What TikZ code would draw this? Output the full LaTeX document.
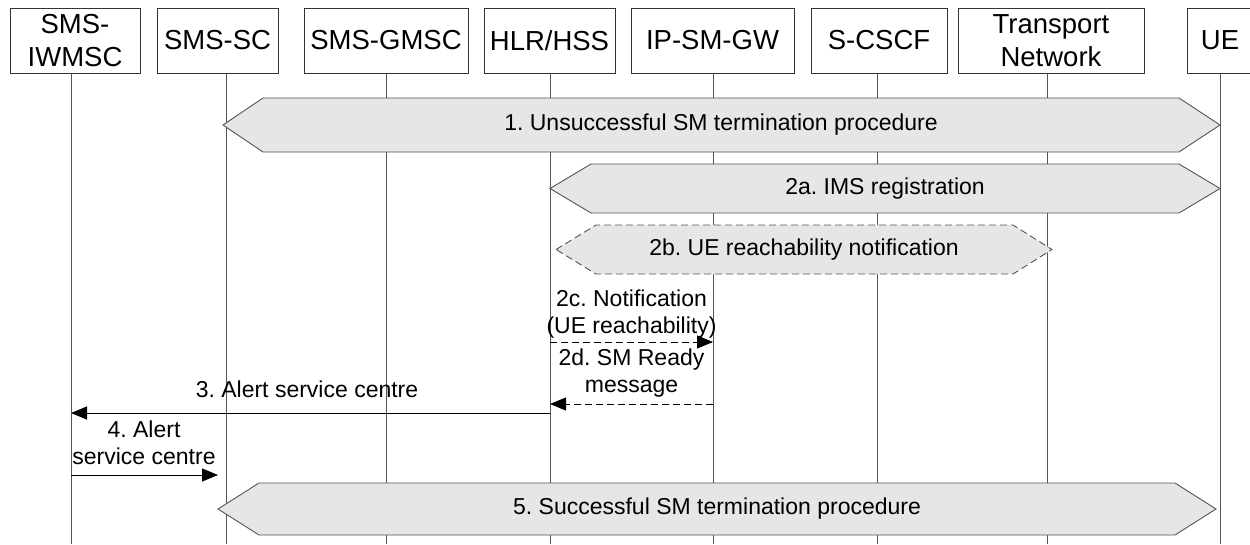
\documentclass[tikz,border=0pt]{standalone}
\usepackage{fontspec}
\setmainfont{Liberation Sans}
\usetikzlibrary{arrows.meta}
\definecolor{hexfill}{RGB}{230,230,230}
\definecolor{lline}{RGB}{85,85,85}
\begin{document}
\begin{tikzpicture}[x=1pt,y=-1pt,
  hdr/.style={draw=black!80,line width=0.9pt,rectangle,inner sep=0pt,align=center,
    font=\fontsize{27.5}{33}\selectfont\frenchspacing},
  life/.style={draw=lline,line width=0.9pt},
  hexa/.style={draw=lline,fill=hexfill,line width=0.9pt},
  msgtext/.style={font=\fontsize{23}{27}\selectfont\frenchspacing,align=center,inner sep=0pt},
  msg/.style={draw=black,line width=0.9pt,-{Triangle[length=16pt,width=13pt]}},
  dmsg/.style={msg,dash pattern=on 7pt off 4pt}]
\useasboundingbox (0,0) rectangle (1250,544);
% header boxes
\node[hdr,minimum width=130,minimum height=65] (iw) at (75,40.5) {SMS-\\IWMSC};
\node[hdr,minimum width=121,minimum height=65] (sc) at (217.5,40.5) {SMS-SC};
\node[hdr,minimum width=164,minimum height=65] (gm) at (386,40.5) {SMS-GMSC};
\node[hdr,minimum width=131,minimum height=65] (hlr) at (549.5,40.5) {HLR/HSS};
\node[hdr,minimum width=163,minimum height=65] (gw) at (712.5,40.5) {IP-SM-GW};
\node[hdr,minimum width=136,minimum height=65] (cs) at (879,40.5) {S-CSCF};
\node[hdr,minimum width=186,minimum height=65] (tn) at (1051,40.5) {Transport\\Network};
\node[hdr,minimum width=66,minimum height=65] (ue) at (1220,40.5) {UE};
% lifelines
\foreach \n/\x in {iw/71,sc/226,gm/386,hlr/550,gw/713,cs/877,tn/1047,ue/1220}{
  \coordinate (\n t) at (\x,73);
  \coordinate (\n b) at (\x,544);
}
\foreach \n in {iw,sc,gm,hlr,gw,cs,tn,ue}{\draw[life] (\n t) -- (\n b);}
% 1
\draw[hexa] (223,125) -- (263,98) -- (1179,98) -- (1220,125) -- (1179,152) -- (263,152) -- cycle;
\node[msgtext] (h1) at (721,125) {1. Unsuccessful SM termination procedure};
% 2a
\draw[hexa] (550,188.5) -- (591,164) -- (1179,164) -- (1220,188.5) -- (1179,213) -- (591,213) -- cycle;
\node[msgtext] (h2a) at (885,188.5) {2a. IMS registration};
% 2b
\draw[hexa,dash pattern=on 7pt off 4pt] (556,249.5) -- (596,225) -- (1013,225) -- (1052,249.5) -- (1013,274) -- (596,274) -- cycle;
\node[msgtext] (h2b) at (804,249.5) {2b. UE reachability notification};
% 2c
\coordinate (c2s) at (550,342);
\coordinate (c2e) at (713,342);
\draw[dmsg] (c2s) -- (c2e);
\node[msgtext] (t2c) at (631.5,314) {2c. Notification\\(UE reachability)};
% 2d
\coordinate (d2s) at (713,404);
\coordinate (d2e) at (550,404);
\draw[dmsg] (d2s) -- (d2e);
\node[msgtext] (t2d) at (631.5,373) {2d. SM Ready\\message};
% 3
\coordinate (m3s) at (550,413);
\coordinate (m3e) at (71,413);
\draw[msg] (m3s) -- (m3e);
\node[msgtext] (t3) at (307,389) {3. Alert service centre};
% 4
\coordinate (m4s) at (71,475);
\coordinate (m4e) at (218,475);
\draw[msg] (m4s) -- (m4e);
\node[msgtext] (t4) at (144,443) {4. Alert\\service centre};
% 5
\draw[hexa] (218,509) -- (259,483) -- (1175,483) -- (1216,509) -- (1175,535) -- (259,535) -- cycle;
\node[msgtext] (h5) at (717,509) {5. Successful SM termination procedure};
\end{tikzpicture}
\end{document}
